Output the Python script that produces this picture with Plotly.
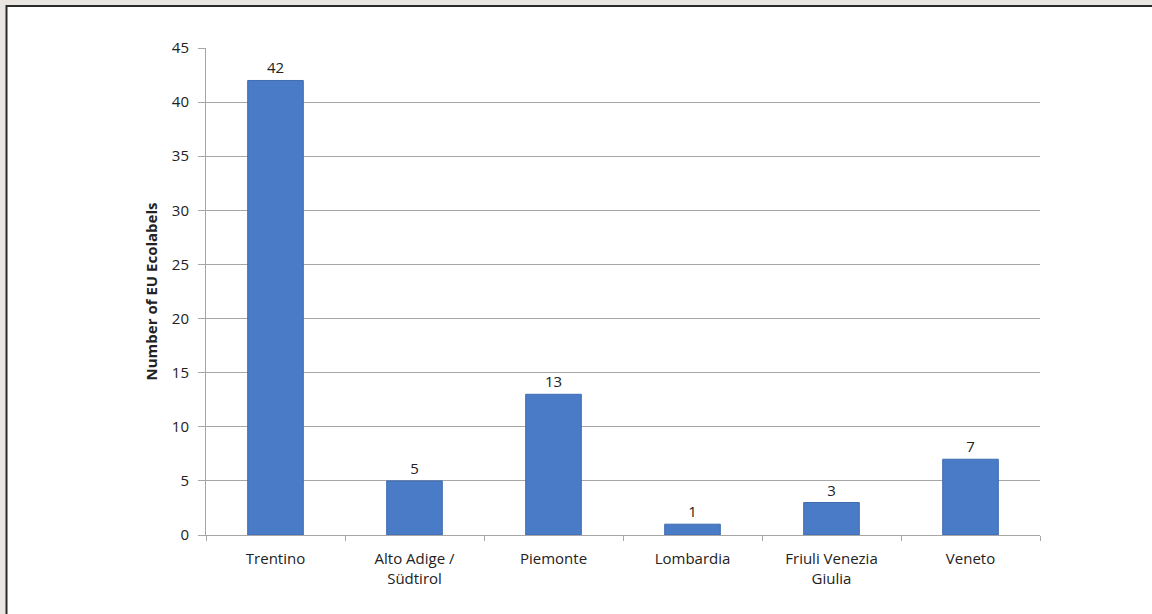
import plotly.graph_objects as go

regions = ["Trentino", "Alto Adige /<br>Südtirol", "Piemonte", "Lombardia",
           "Friuli Venezia<br>Giulia", "Veneto"]
ecolabels = [42, 5, 13, 1, 3, 7]
y_ticks = [0, 5, 10, 15, 20, 25, 30, 35, 40, 45]

fig = go.Figure()

fig.add_trace(go.Bar(
    x=regions,
    y=ecolabels,
    text=ecolabels,
    textposition="outside",
    textfont=dict(size=15, color="#222222"),
    cliponaxis=False,
    width=0.4,
    marker=dict(color="#4a7bc6", line=dict(color="#3f6cb0", width=1)),
))

# framed page, cropped on the right and bottom
fig.add_shape(
    type="rect", xref="paper", yref="paper",
    x0=-0.2392, x1=1.15, y0=-0.2, y1=1.0862,
    line=dict(color="#2b2b2b", width=2),
    fillcolor="white", layer="below",
)

fig.update_layout(
    width=1152, height=614,
    margin=dict(l=206, r=112, t=48, b=79),
    paper_bgcolor="#e9e6e2",
    plot_bgcolor="rgba(0,0,0,0)",
    font=dict(family="Open Sans, sans-serif", size=15, color="#222222"),
    showlegend=False,
    xaxis=dict(
        showline=True, linecolor="#a6a6a6", linewidth=1,
        ticks="outside", tickson="boundaries", ticklen=5, tickcolor="#a6a6a6",
        ticklabelstandoff=10,
        tickfont=dict(size=15),
        showgrid=False,
    ),
    yaxis=dict(
        range=[0, 45], tickvals=y_ticks,
        showline=True, linecolor="#a6a6a6", linewidth=1,
        ticks="outside", ticklen=7, tickcolor="#a6a6a6",
        ticklabelstandoff=6,
        gridcolor="#a6a6a6", gridwidth=1,
        zeroline=False,
        tickfont=dict(size=15),
        title=dict(text="<b>Number of EU Ecolabels</b>", font=dict(size=15), standoff=10),
    ),
)

fig.write_html("out.html", config={"displayModeBar": False},
               post_script="document.body.style.margin='0';")
